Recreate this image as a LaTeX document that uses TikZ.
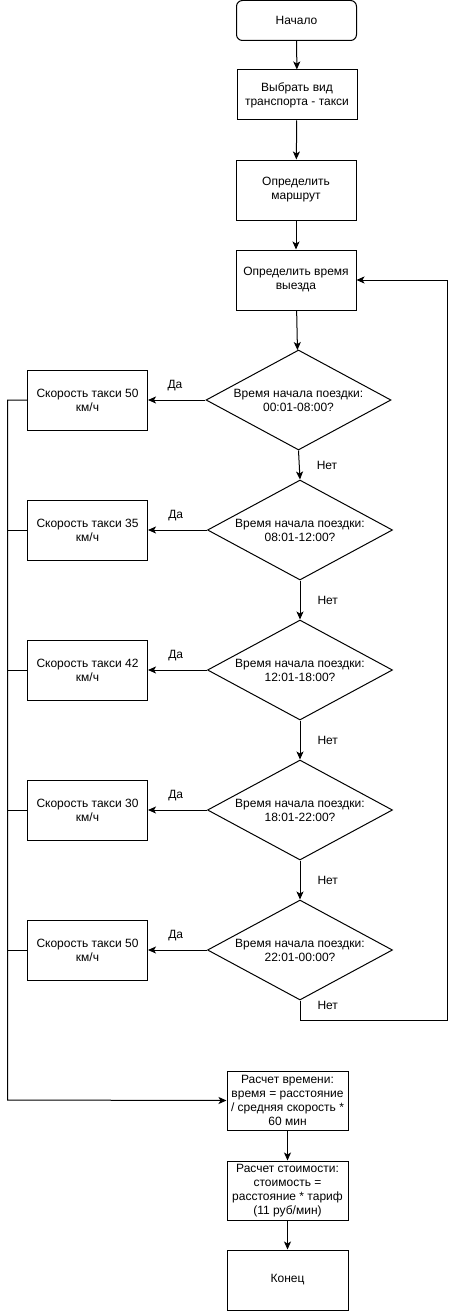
\documentclass[tikz,border=0pt]{standalone}
\usepackage{fontspec}
\setmainfont{Liberation Sans}
\usetikzlibrary{shapes.geometric,arrows.meta}

\begin{document}
\begin{tikzpicture}[x=1pt,y=-1pt,line width=1pt,
	box/.style={draw,minimum width=120pt,minimum height=60pt,align=center,inner sep=2pt},
	quest/.style={draw,diamond,shape aspect=1.85,minimum width=185pt,minimum height=100pt,inner sep=0pt,align=center},
	arr/.style={-{Stealth[length=8pt,width=7pt,inset=2pt]}}]
	\fontsize{12}{14}\selectfont
	\useasboundingbox (0,0) rectangle (456,1311);
	\coordinate (bus) at (7.5,1100);
	\coordinate (loop) at (447,1020);

	\node[box,rounded corners=6pt,minimum height=40pt] (start) at (296.5,20.5) {Начало};
	\node[box,minimum height=50pt] (choose) at (297,95) {Выбрать вид\\транспорта - такси};
	\node[box] (route) at (296,190) {Определить\\маршрут};
	\node[box] (depart) at (296,280) {Определить время\\выезда};

	\node[quest] (q1) at (298.5,400) {Время начала поездки:\\00:01-08:00?};
	\node[quest] (q2) at (300,530) {Время начала поездки:\\08:01-12:00?};
	\node[quest] (q3) at (300,670) {Время начала поездки:\\12:01-18:00?};
	\node[quest] (q4) at (300,810) {Время начала поездки:\\18:01-22:00?};
	\node[quest] (q5) at (300,950) {Время начала поездки:\\22:01-00:00?};

	\node[box] (v1) at (87.5,400) {Скорость такси 50\\км/ч};
	\node[box] (v2) at (87.5,530) {Скорость такси 35\\км/ч};
	\node[box] (v3) at (87.5,670) {Скорость такси 42\\км/ч};
	\node[box] (v4) at (87.5,810) {Скорость такси 30\\км/ч};
	\node[box] (v5) at (87.5,950) {Скорость такси 50\\км/ч};

	\node[box,minimum width=121pt,minimum height=59pt] (calcT) at (287.5,1100.5) {Расчет времени:\\время = расстояние\\/ средняя скорость *\\60 мин};
	\node[box,minimum width=121pt,minimum height=59pt] (calcC) at (287.5,1190.5) {Расчет стоимости:\\стоимость =\\расстояние * тариф\\(11 руб/мин)};
	\node[box,minimum width=121pt] (stop) at (287.5,1280) {Конец};

	\draw[arr] (start) -- (choose);
	\draw[arr] (choose) -- (route);
	\draw[arr] (route) -- (depart);
	\draw[arr] (depart) -- (q1);

	\draw[arr] (q1) -- (v1) node[pos=0.53,above=5pt]{Да};
	\draw[arr] (q2) -- (v2) node[pos=0.53,above=5pt]{Да};
	\draw[arr] (q3) -- (v3) node[pos=0.53,above=5pt]{Да};
	\draw[arr] (q4) -- (v4) node[pos=0.53,above=5pt]{Да};
	\draw[arr] (q5) -- (v5) node[pos=0.53,above=5pt]{Да};

	\draw[arr] (q1.south) -- (q2.north) node[pos=0.5,right=13pt]{Нет};
	\draw[arr] (q2.south) -- (q3.north) node[pos=0.5,right=13pt]{Нет};
	\draw[arr] (q3.south) -- (q4.north) node[pos=0.5,right=13pt]{Нет};
	\draw[arr] (q4.south) -- (q5.north) node[pos=0.5,right=13pt]{Нет};
	\draw[arr] (q5.south) |- (loop) node[pos=0.12,right=13pt]{Нет} |- (depart.east);

	\draw[arr] (v1.west) -| (bus) -- (calcT.west);
	\draw (v2.west) -- (v2.west -| bus);
	\draw (v3.west) -- (v3.west -| bus);
	\draw (v4.west) -- (v4.west -| bus);
	\draw (v5.west) -- (v5.west -| bus);

	\draw[arr] (calcT) -- (calcC);
	\draw[arr] (calcC) -- (stop);
\end{tikzpicture}
\end{document}
